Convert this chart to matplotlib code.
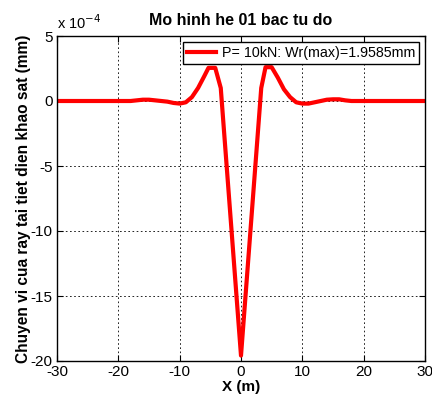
import matplotlib
matplotlib.use('Agg')
import matplotlib.pyplot as plt

plt.rcParams['font.family'] = ['Liberation Sans', 'DejaVu Sans']
plt.rcParams['axes.unicode_minus'] = False

# deflection of rail along x, in units of 1e-4 mm
x_m = [-30, -18, -17, -16, -15, -14, -13, -12, -11, -10, -9, -8, -7, -6,
       -5.3, -4.2, -3.3, 0, 3.3, 4.0, 5.0, 6, 7, 8, 9, 10, 11, 12, 13,
       14, 15, 16, 17, 18, 30]
w_e4 = [0, 0, 0.05, 0.1, 0.1, 0.05, 0, -0.05, -0.15, -0.2, -0.1, 0.3, 1.0, 1.9,
        2.55, 2.55, 1.0, -19.585, 1.0, 2.6, 2.6, 1.8, 0.9, 0.3, -0.1, -0.2, -0.2, -0.1, 0,
        0.1, 0.13, 0.13, 0.05, 0, 0]
xticks = [-30, -20, -10, 0, 10, 20, 30]
yticks = [-20, -15, -10, -5, 0, 5]
legend_label = 'P= 10kN: Wr(max)=1.9585mm'

fig = plt.figure(figsize=(4.32, 3.95), dpi=100)
ax = fig.add_axes([57/432, 1 - 361/395, 368/432, 325/395])

ax.plot(x_m, w_e4, color='red', linewidth=3, label=legend_label)

ax.set_xlim(-30, 30)
ax.set_ylim(-20, 5)
ax.set_xticks(xticks)
ax.set_yticks(yticks)
ax.tick_params(direction='in', top=True, right=True, length=4, width=0.8,
               labelsize=11)
ax.tick_params(axis='x', pad=3)
ax.tick_params(axis='y', pad=3)
ax.grid(True, color='black', linestyle=(0, (2, 3)), linewidth=0.6)
for s in ax.spines.values():
    s.set_linewidth(1.0)

ax.set_title('Mo hinh he 01 bac tu do', fontsize=11.5, fontweight='bold', pad=8)
ax.set_xlabel('X (m)', fontsize=11, fontweight='bold', labelpad=0.5)
ax.set_ylabel('Chuyen vi cua ray tai tiet dien khao sat (mm)', fontsize=11.2,
              fontweight='bold', labelpad=0)
ax.text(0.0, 1.012, r'x 10$^{-4}$', transform=ax.transAxes, fontsize=10.5,
        ha='left', va='bottom')

leg = ax.legend(loc='upper right', fontsize=10.3, handlelength=2.0,
                borderaxespad=0.4, fancybox=False, framealpha=1,
                borderpad=0.3, handletextpad=0.4)
leg.get_frame().set_edgecolor('black')
leg.get_frame().set_linewidth(1.0)

fig.savefig('out.png', dpi=100)
